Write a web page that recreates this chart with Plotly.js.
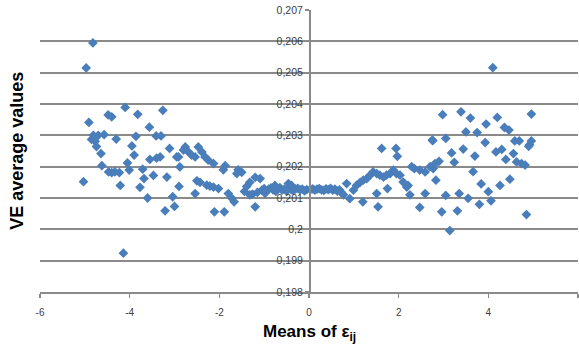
<!DOCTYPE html>
<html>
<head>
<meta charset="utf-8">
<script src="https://cdn.plot.ly/plotly-3.0.1.min.js"></script>
<style>html,body{margin:0;padding:0;background:#fff}#chart{width:579px;height:355px}</style>
</head>
<body>
<div id="chart"></div>
<script>
// Means of eps_ij (x) and VE average values (y)
const meanEps = [
 -4.97,-4.82,-4.91,-4.10,-3.26,-4.48,-4.40,-3.82,-3.56,-4.85,-4.77,-4.81,-4.70,-4.57,-4.30,-3.86,-3.41,-3.30,
 -4.74,-4.64,-3.95,-3.90,-4.05,-4.62,-3.55,-3.40,-3.32,-3.11,-2.95,-3.71,-2.88,-4.47,-4.40,-4.33,-4.23,-4.01,
 -5.03,-4.21,-3.77,-3.68,-3.47,-3.17,-3.60,-3.21,-3.04,-4.14,-3.00,-2.90,-2.76,-2.69,-2.62,-2.54,-2.47,-2.39,
 -2.32,-2.25,-2.13,-2.91,-2.80,-1.87,-1.91,-1.58,-1.61,-1.50,-2.50,-2.43,-2.28,-2.21,-2.13,-2.02,-2.54,-2.11,
 -1.89,-1.80,-1.72,-1.67,-1.39,-1.32,-1.20,-1.09,-1.44,-1.32,-1.20,-1.26,-0.76,-0.46,-0.39,
 -1.05,-1.00,-0.95,-0.90,-0.85,-0.80,-0.74,-0.70,-0.65,-0.60,-0.55,-0.50,-0.45,-0.40,-0.35,-0.30,-0.25,-0.20,
 -0.15,-0.10,-0.05,-1.15,-0.98,
 0.03,0.08,0.13,0.18,0.23,0.28,0.33,0.38,0.43,0.48,0.53,0.58,0.63,0.68,0.72,
 0.77,0.84,0.91,0.99,1.06,1.14,1.21,1.29,1.36,1.43,1.51,1.58,1.66,1.73,1.81,1.88,1.95,2.03,2.10,2.18,
 1.20,1.54,1.51,1.75,2.25,2.47,2.59,2.83,2.96,1.62,1.94,1.97,2.76,3.05,2.90,2.29,2.35,2.47,2.59,2.70,2.81,
 2.21,3.05,3.14,3.31,3.35,3.55,3.80,4.00,4.06,4.26,4.48,4.85,3.84,3.66,
 4.10,2.98,3.39,3.60,4.20,4.96,3.95,3.50,3.75,4.36,4.46,2.75,3.93,4.59,4.69,4.92,4.96,4.90,
 3.44,3.18,4.17,4.30,4.56,3.70,4.39,3.24,4.63,4.74,4.82,2.77
];
const veAverage = [
 0.20515,0.20595,0.20341,0.20389,0.20380,0.20365,0.20359,0.20367,0.20326,0.20287,0.20281,0.20300,0.20300,0.20302,0.20288,0.20297,0.20298,0.20298,
 0.20264,0.20242,0.20266,0.20237,0.20212,0.20203,0.20223,0.20227,0.20231,0.20258,0.20231,0.20192,0.20199,0.20183,0.20181,0.20183,0.20181,0.20189,
 0.20152,0.20140,0.20134,0.20162,0.20172,0.20167,0.20100,0.20059,0.20104,0.19924,0.20073,0.20137,0.20263,0.20247,0.20237,0.20231,0.20263,0.20247,
 0.20231,0.20221,0.20210,0.20231,0.20253,0.20203,0.20190,0.20190,0.20178,0.20182,0.20155,0.20150,0.20141,0.20138,0.20135,0.20130,0.20114,0.20056,
 0.20056,0.20114,0.20099,0.20088,0.20137,0.20150,0.20166,0.20162,0.20121,0.20110,0.20072,0.20112,0.20140,0.20146,0.20140,
 0.20125,0.20130,0.20122,0.20128,0.20132,0.20126,0.20121,0.20129,0.20133,0.20125,0.20128,0.20122,0.20130,0.20127,0.20124,0.20129,0.20131,0.20126,
 0.20128,0.20123,0.20127,0.20118,0.20115,
 0.20127,0.20129,0.20125,0.20128,0.20130,0.20126,0.20124,0.20129,0.20127,0.20131,0.20125,0.20128,0.20122,0.20126,0.20118,
 0.20110,0.20146,0.20098,0.20125,0.20140,0.20150,0.20157,0.20162,0.20173,0.20183,0.20178,0.20173,0.20167,0.20173,0.20178,0.20189,0.20178,0.20173,0.20151,0.20135,
 0.20088,0.20072,0.20114,0.20130,0.20110,0.20070,0.20114,0.20157,0.20056,0.20258,0.20258,0.20233,0.20283,0.20290,0.20217,0.20200,0.20194,0.20189,0.20183,0.20200,0.20210,
 0.20140,0.20108,0.19996,0.20059,0.20114,0.20099,0.20080,0.20120,0.20091,0.20140,0.20160,0.20047,0.20145,0.20184,
 0.20516,0.20366,0.20375,0.20355,0.20357,0.20368,0.20336,0.20311,0.20309,0.20325,0.20317,0.20285,0.20277,0.20282,0.20282,0.20270,0.20282,0.20265,
 0.20256,0.20244,0.20247,0.20255,0.20242,0.20234,0.20223,0.20214,0.20215,0.20210,0.20205,0.20194
];
const yTickVals = [0.198,0.199,0.200,0.201,0.202,0.203,0.204,0.205,0.206,0.207];
const yTickText = ["0,198","0,199","0,2","0,201","0,202","0,203","0,204","0,205","0,206","0,207"];
const xTickVals = [-6,-4,-2,0,2,4,6];
const xTickText = ["-6","-4","-2","0","2","4","6"];

const trace = {
  x: meanEps, y: veAverage, type: 'scatter', mode: 'markers',
  marker: {symbol: 'diamond', size: 7.5, color: '#4a7ebb'},
  hoverinfo: 'none'
};
const gridCol = '#8a8a8a';
const layout = {
  width: 579, height: 355,
  margin: {l: 40, r: 1, t: 10, b: 63},
  paper_bgcolor: '#fff', plot_bgcolor: '#fff',
  showlegend: false,
  font: {family: 'Liberation Sans, Arial, sans-serif', color: '#404040'},
  xaxis: {
    range: [-6, 6], tickvals: xTickVals, ticktext: xTickText,
    showgrid: false, zeroline: false, showline: true, linecolor: gridCol, linewidth: 1.8,
    ticks: 'outside', ticklen: 4, tickcolor: gridCol, tickwidth: 1.3,
    tickfont: {size: 10, color: '#404040'}, ticklabelstandoff: 6
  },
  yaxis: {
    range: [0.198, 0.207], tickvals: yTickVals, ticktext: yTickText,
    anchor: 'free', position: 0.5,
    showgrid: true, gridcolor: gridCol, gridwidth: 1.8,
    zeroline: false, showline: true, linecolor: gridCol, linewidth: 1.8,
    ticks: 'outside', ticklen: 4, tickcolor: gridCol, tickwidth: 1.3,
    tickfont: {size: 10.5, color: '#404040'}
  },
  annotations: [
    {text: 'VE average values', xref: 'paper', yref: 'paper', x: -0.043, y: 0.5,
     xanchor: 'center', yanchor: 'middle', textangle: -90, showarrow: false,
     font: {size: 18, color: '#000', weight: 'bold', family: 'Liberation Sans, Arial, sans-serif'}},
    {text: 'Means of ε<sub>ij</sub>', xref: 'paper', yref: 'paper', x: 0.5, y: -0.145,
     xanchor: 'center', yanchor: 'middle', showarrow: false,
     font: {size: 17, color: '#000', weight: 'bold', family: 'Liberation Sans, Arial, sans-serif'}}
  ]
};
Plotly.newPlot('chart', [trace], layout, {staticPlot: true, displayModeBar: false});
</script>
</body>
</html>
